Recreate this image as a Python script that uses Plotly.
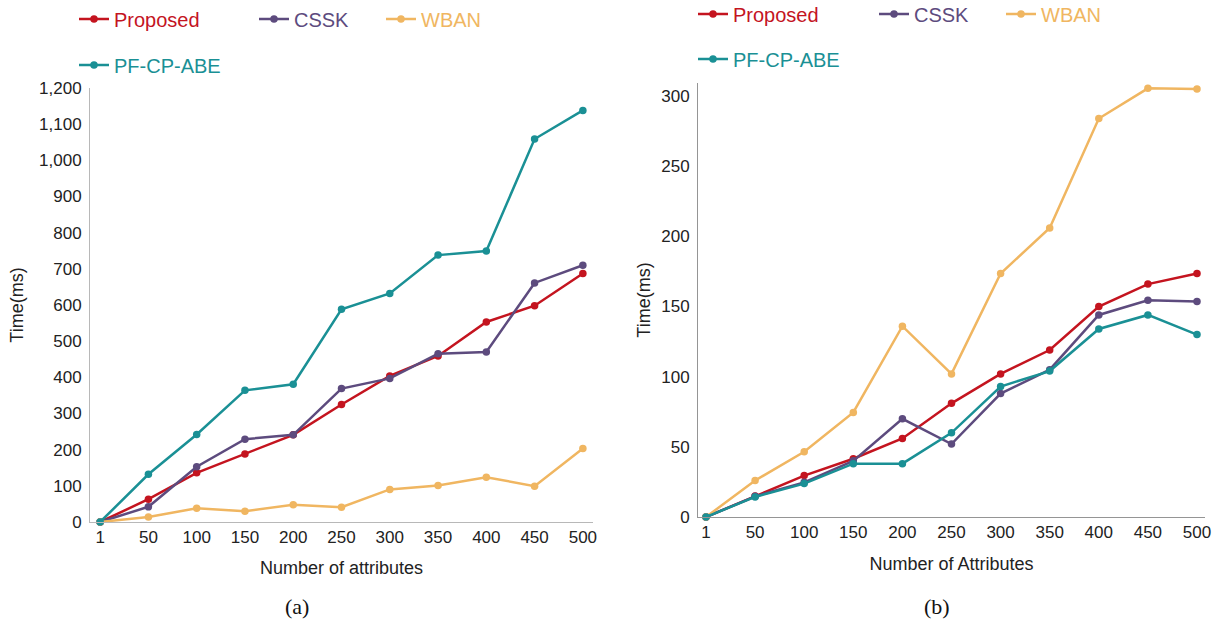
import plotly.graph_objects as go

categories = ["1", "50", "100", "150", "200", "250", "300", "350", "400", "450", "500"]
series_names = ["Proposed", "CSSK", "WBAN", "PF-CP-ABE"]

# (a) Time(ms) vs Number of attributes
a_proposed = [0, 63, 136, 188, 241, 325, 404, 459, 553, 598, 687]
a_cssk = [0, 42, 153, 229, 241, 369, 397, 465, 470, 661, 710]
a_wban = [0, 14, 38, 30, 48, 41, 90, 101, 124, 99, 203]
a_pfcpabe = [0, 132, 242, 364, 381, 588, 632, 738, 749, 1059, 1138]

# (b) Time(ms) vs Number of Attributes
b_proposed = [0, 15, 29.5, 41.5, 56, 81, 102, 119, 150, 166, 173.5]
b_cssk = [0, 14.7, 24.7, 40, 70, 52, 88, 105, 144, 154.5, 153.5]
b_wban = [0, 26, 46.5, 74.5, 136, 102, 173.5, 206, 284, 305.5, 305]
b_pfcpabe = [0, 14.3, 23.8, 38, 38, 60, 93, 104, 134, 144, 130]

a_values = [a_proposed, a_cssk, a_wban, a_pfcpabe]
b_values = [b_proposed, b_cssk, b_wban, b_pfcpabe]

colors = ["#C4141F", "#5D4B7E", "#F0B661", "#1A9095"]

W, H = 1218, 621
FONT = "Liberation Sans, Arial, sans-serif"

fig = go.Figure()

# legend text x (px) and row y (px) per panel / series
leg_pos_a = [(114, 19), (294, 19), (421, 19), (114, 65)]
leg_pos_b = [(733, 14), (914, 14), (1041, 14), (733, 59)]

legend_layout = {}
idx = 0
for panel, vals, pos, xa, ya in [("a", a_values, leg_pos_a, "x", "y"),
                                  ("b", b_values, leg_pos_b, "x2", "y2")]:
    for name, v, c, (lx, ly) in zip(series_names, vals, colors, pos):
        idx += 1
        lname = "legend" if idx == 1 else f"legend{idx}"
        fig.add_trace(go.Scatter(
            x=categories, y=v, name=name, mode="lines+markers",
            line=dict(color=c, width=2.5), marker=dict(color=c, size=7.5),
            xaxis=xa, yaxis=ya, legend=lname, cliponaxis=False,
        ))
        legend_layout[lname] = dict(
            x=(lx - 40) / W, y=1 - ly / H, xanchor="left", yanchor="middle",
            font=dict(family=FONT, size=20, color=c),
            bgcolor="rgba(0,0,0,0)", borderwidth=0, itemwidth=30,
        )

axis_common = dict(showgrid=False, zeroline=False, showline=True, ticks="", automargin=False,
                   tickfont=dict(family=FONT, size=17, color="#222"))
title_font = dict(family=FONT, size=18, color="#222")

fig.update_layout(
    width=W, height=H, margin=dict(l=0, r=0, t=0, b=0, autoexpand=False),
    paper_bgcolor="white", plot_bgcolor="white", showlegend=True,
    **legend_layout,
    xaxis=dict(domain=[90 / W, 593 / W], type="category", range=[-0.21, 10.21],
               linecolor="#b8b8b8", linewidth=1,
               title=dict(text="Number of attributes", font=title_font, standoff=14),
               anchor="y", **axis_common),
    yaxis=dict(domain=[1 - 522 / H, 1 - 88 / H], range=[0, 1200], dtick=100, tickformat=",",
               linecolor="#b8b8b8", linewidth=1, ticklabelstandoff=4,
               title=dict(text="Time(ms)", font=title_font, standoff=10),
               anchor="x", **axis_common),
    xaxis2=dict(domain=[698 / W, 1205 / W], type="category", range=[-0.163, 10.163],
                linecolor="#959595", linewidth=1,
                title=dict(text="Number of Attributes", font=title_font, standoff=15),
                anchor="y2", **axis_common),
    yaxis2=dict(domain=[1 - 517 / H, 1 - 83 / H], range=[0, 309.3], dtick=50,
                linecolor="#959595", linewidth=1, ticklabelstandoff=4,
                title=dict(text="Time(ms)", font=title_font, standoff=5),
                anchor="x2", **axis_common),
    annotations=[
        dict(text="(a)", x=297 / W, y=1 - 606 / H, xref="paper", yref="paper",
             xanchor="center", yanchor="middle",
             showarrow=False, font=dict(family="Liberation Serif, serif", size=22, color="#111")),
        dict(text="(b)", x=937 / W, y=1 - 606 / H, xref="paper", yref="paper",
             xanchor="center", yanchor="middle",
             showarrow=False, font=dict(family="Liberation Serif, serif", size=22, color="#111")),
    ],
)

fig.write_html("out.html", config={"displayModeBar": False},
               post_script="document.body.style.margin='0px';document.body.style.overflow='hidden';")
